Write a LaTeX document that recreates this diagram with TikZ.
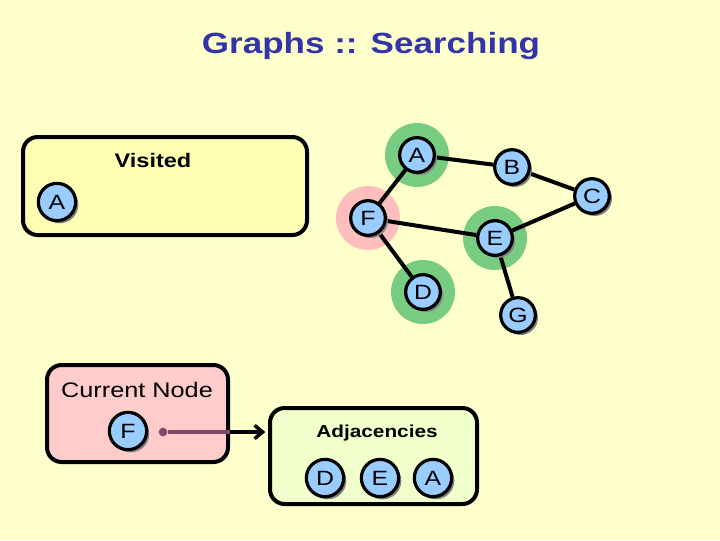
\documentclass[tikz,border=0pt]{standalone}
\usepackage{fontspec}
\setmainfont{Liberation Sans}[FakeStretch=1.2]
\usetikzlibrary{shadows,arrows.meta,backgrounds}

\definecolor{slidebg}{RGB}{255,255,204}
\definecolor{visitfill}{RGB}{255,255,180}
\definecolor{curfill}{RGB}{255,204,204}
\definecolor{adjfill}{RGB}{240,255,204}
\definecolor{nodeblue}{RGB}{153,204,255}
\definecolor{halogreen}{RGB}{120,204,130}
\definecolor{halopink}{RGB}{255,190,190}
\definecolor{titleblue}{RGB}{51,51,170}
\definecolor{linkpurple}{RGB}{128,72,104}
\definecolor{shadowgray}{RGB}{130,130,130}

\pgfdeclarelayer{halo}
\pgfsetlayers{halo,background,main}

\tikzset{
  vertex/.style={circle, draw=black, line width=2.4pt, fill=nodeblue,
    minimum size=26pt, inner sep=0pt, font=\fontsize{15.5}{15.5}\selectfont,
    drop shadow={shadow xshift=2pt, shadow yshift=-2pt, fill=shadowgray, opacity=1}},
  listvertex/.style={vertex, minimum size=28pt},
  edge/.style={draw=black, line width=3pt},
  box/.style={rectangle, draw=black, line width=3pt, rounded corners=11pt, inner sep=0pt},
  boxlabel/.style={anchor=base, inner sep=0pt},
}

\begin{document}
\begin{tikzpicture}[x=0.75pt,y=0.75pt,yscale=-1,xscale=1]
    % slide background
    \begin{pgfonlayer}{halo}
    \fill[slidebg] (0,0) rectangle (720,540);
    \end{pgfonlayer}

    % Title
    \node[anchor=base, inner sep=0pt, text=titleblue, font=\bfseries\fontsize{21.9}{21.9}\selectfont] (title) at (371,53) {Graphs :: Searching};

    % Visited box
    \node[box, fill=visitfill, minimum width=213pt, minimum height=73.5pt] (visited) at (165,186) {};
    \node[boxlabel, font=\bfseries\fontsize{14.7}{14.7}\selectfont] (visitedlbl) at (153,167) {Visited};
    \node[listvertex] (vA) at (57,202) {A};

    % Graph vertices
    \node[vertex] (gA) at (417,155) {A};
    \node[vertex] (gB) at (512,167) {B};
    \node[vertex] (gC) at (592,196) {C};
    \node[vertex] (gF) at (368,218) {F};
    \node[vertex] (gE) at (495,238) {E};
    \node[vertex] (gD) at (423,292) {D};
    \node[vertex] (gG) at (518,315) {G};

    % halos
    \begin{pgfonlayer}{halo}
    \fill[halogreen] (gA) circle (32);
    \fill[halogreen] (gE) circle (32);
    \fill[halogreen] (gD) circle (32);
    \fill[halopink] (gF) circle (32);
    \end{pgfonlayer}

    % Graph edges
    \begin{pgfonlayer}{background}
    \foreach \from/\to in {gA/gB, gB/gC, gC/gE, gE/gF, gF/gA, gF/gD, gE/gG}
      \draw[edge] (\from) -- (\to);
    \end{pgfonlayer}

    % Current node box
    \node[box, fill=curfill, minimum width=135.75pt, minimum height=72.75pt] (cur) at (137.5,413.5) {};
    \node[boxlabel, font=\fontsize{15.8}{15.8}\selectfont] (curlbl) at (137,397) {Current Node};
    \node[listvertex] (cF) at (128,431) {F};
    \node[circle, fill=linkpurple, inner sep=0pt, minimum size=6.5pt] (fdot) at (163,432) {};

    % Adjacencies box
    \node[box, fill=adjfill, minimum width=155.25pt, minimum height=72pt] (adj) at (373.5,456) {};
    \node[boxlabel, font=\bfseries\fontsize{13}{13}\selectfont] (adjlbl) at (377,437) {Adjacencies};
    \node[listvertex] (aD) at (325,478) {D};
    \node[listvertex] (aE) at (380,478) {E};
    \node[listvertex] (aA) at (433,478) {A};

    % pointer from current node to its adjacency list
    \draw[linkpurple, line width=2.6pt] (fdot) -- (cur.east |- fdot);
    \draw[black, line width=2.6pt, -{Straight Barb[length=6pt,width=10pt]}] (cur.east |- fdot) -- ([xshift=-2pt]adj.west |- fdot);

\end{tikzpicture}
\end{document}
